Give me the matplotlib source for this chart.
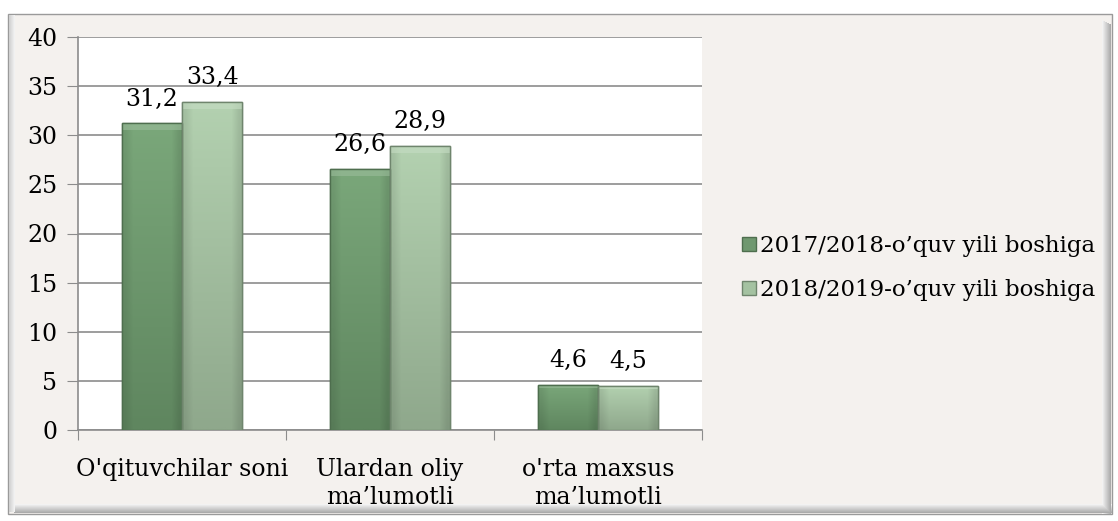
import matplotlib
matplotlib.use("Agg")
import matplotlib.pyplot as plt
import numpy as np
from matplotlib.patches import Rectangle

categories = ["O'qituvchilar soni", "Ulardan oliy\nma\u2019lumotli", "o'rta maxsus\nma\u2019lumotli"]
series_names = ["2017/2018-o\u2019quv yili boshiga", "2018/2019-o\u2019quv yili boshiga"]
values_2017 = [31.2, 26.6, 4.6]
values_2018 = [33.4, 28.9, 4.5]
labels_2017 = ["31,2", "26,6", "4,6"]
labels_2018 = ["33,4", "28,9", "4,5"]
yticks = [0, 5, 10, 15, 20, 25, 30, 35, 40]

W, H = 1118, 521
FS = 17
fig = plt.figure(figsize=(W / 100, H / 100), dpi=100)
fig.patch.set_facecolor("white")
plt.rcParams['font.family'] = ['DejaVu Serif', 'Liberation Serif']

def px(x0, y0, x1, y1):
    return (x0 / W, 1 - y1 / H, (x1 - x0) / W, (y1 - y0) / H)

# frame background
bx, by, bw, bh = px(8, 14, 1112, 514)
fig.patches.append(Rectangle((bx, by), bw, bh, transform=fig.transFigure,
                             facecolor="#f4f1ee", edgecolor="#9a9a9a", lw=1.0, zorder=0))
for i in range(9):
    c = 0.95 - i * 0.035
    x0, y0, w0, h0 = px(1102 + i, 20 + i * 0.5, 1103 + i, 514)
    fig.patches.append(Rectangle((x0, y0), w0, h0, transform=fig.transFigure,
                                 facecolor=(c, c, c), edgecolor="none", zorder=0.5))
    x0, y0, w0, h0 = px(14, 504 + i, 1112, 505 + i)
    fig.patches.append(Rectangle((x0, y0), w0, h0, transform=fig.transFigure,
                                 facecolor=(c, c, c), edgecolor="none", zorder=0.5))
for i in range(6):
    c = 0.82 + i * 0.025
    x0, y0, w0, h0 = px(9 + i, 15, 10 + i, 512)
    fig.patches.append(Rectangle((x0, y0), w0, h0, transform=fig.transFigure,
                                 facecolor=(c, c, c), edgecolor="none", zorder=0.5))

ax = fig.add_axes(px(78, 37, 702, 430))
ax.set_facecolor("white")
ax.set_zorder(2)

x = np.arange(len(categories))
bw_ = 0.29

def grad_bar(xc, h, top, bottom, edge):
    x0 = xc - bw_ / 2
    rect = Rectangle((x0, 0), bw_, h, facecolor=bottom, edgecolor=edge, lw=1.0, zorder=3)
    ax.add_patch(rect)
    top = np.array(matplotlib.colors.to_rgb(top))
    bottom = np.array(matplotlib.colors.to_rgb(bottom))
    t = np.linspace(0, 1, 64)[:, None]
    img = (top * (1 - t) + bottom * t)[:, None, :]
    img = np.repeat(img, 8, axis=1)
    s = np.ones(8)
    s[0] = 0.92
    s[-1] = 0.9
    img = img * s[None, :, None]
    im = ax.imshow(img, extent=(x0, x0 + bw_, 0, h), aspect="auto", zorder=3,
                   interpolation="bilinear", origin="upper")
    im.set_clip_path(rect)
    bev = min(0.7, h * 0.08)
    ax.add_patch(Rectangle((x0, h - bev), bw_, bev, facecolor=(top * 0.75 + 0.25), edgecolor="none",
                           alpha=0.6, zorder=4))
    ax.add_patch(Rectangle((x0, 0), bw_, h, facecolor="none", edgecolor=edge, lw=1.0, zorder=5))

for i in range(len(categories)):
    grad_bar(x[i] - bw_ / 2, values_2017[i], "#7aa77a", "#5f865f", "#4e6e4e")
    grad_bar(x[i] + bw_ / 2, values_2018[i], "#b3d1b0", "#8fa88c", "#6f856d")
    ax.text(x[i] - bw_ / 2, values_2017[i] + 1.3, labels_2017[i], ha="center", va="bottom",
            fontsize=FS, color="black", zorder=6)
    ax.text(x[i] + bw_ / 2, values_2018[i] + 1.3, labels_2018[i], ha="center", va="bottom",
            fontsize=FS, color="black", zorder=6)

ax.set_xlim(-0.5, 2.5)
ax.set_ylim(0, 40)
ax.set_yticks(yticks)
ax.set_yticklabels([str(v) for v in yticks], fontsize=FS)
ax.yaxis.grid(True, color="#8c8c8c", lw=1.2, zorder=1)
ax.set_axisbelow(True)
ax.set_xticks([-0.5, 0.5, 1.5, 2.5])
ax.set_xticklabels([])
ax.set_xticks(x, minor=True)
ax.set_xticklabels(categories, minor=True, fontsize=FS, linespacing=1.3)
ax.tick_params(axis="x", which="minor", length=0, pad=20)
ax.tick_params(axis="x", which="major", length=7, color="#8c8c8c", direction="out")
ax.tick_params(axis="y", length=8, color="#8c8c8c", direction="out", pad=7)
for sp in ["top", "right"]:
    ax.spines[sp].set_visible(False)
for sp in ["left", "bottom"]:
    ax.spines[sp].set_color("#8c8c8c")
    ax.spines[sp].set_linewidth(1.2)

from matplotlib.lines import Line2D
handles = [Line2D([], [], marker="s", ls="none", markersize=10, markerfacecolor="#6f986f",
                  markeredgecolor="#4e6e4e"),
           Line2D([], [], marker="s", ls="none", markersize=10, markerfacecolor="#a4c2a1",
                  markeredgecolor="#6f856d")]
leg = fig.legend(handles, series_names, loc="center left", bbox_to_anchor=(730 / W, 1 - 268 / H),
                 frameon=False, fontsize=16.5, handlelength=0.7, handletextpad=0.1,
                 labelspacing=0.95, borderpad=0)

fig.savefig("out.png", dpi=100, facecolor=fig.get_facecolor())
